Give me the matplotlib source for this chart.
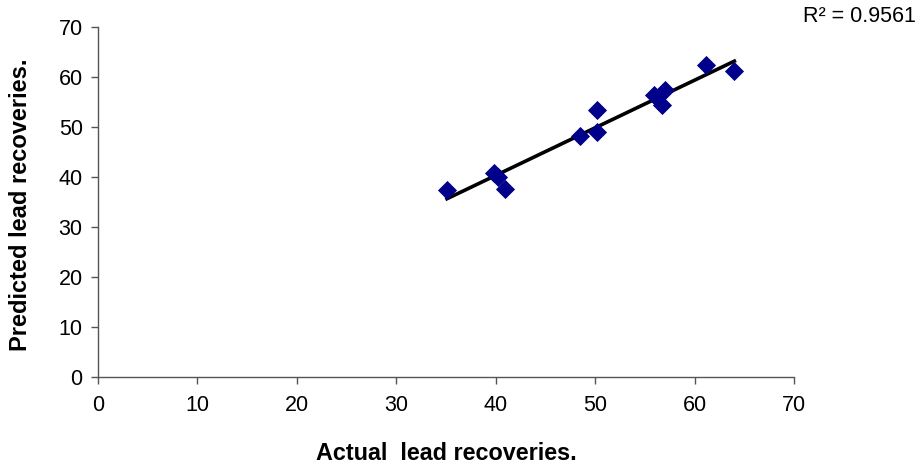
import matplotlib
matplotlib.use("Agg")
import matplotlib.pyplot as plt
import numpy as np

plt.rcParams['font.family'] = ['Liberation Sans', 'DejaVu Sans']

actual = [35.1, 39.8, 40.2, 40.9, 48.5, 50.2, 50.2, 55.9, 56.7, 57.0, 61.1, 64.0]
predicted = [37.4, 40.8, 40.0, 37.5, 48.1, 53.3, 48.9, 56.4, 54.3, 57.4, 62.4, 61.2]
xticks = [0, 10, 20, 30, 40, 50, 60, 70]
yticks = [0, 10, 20, 30, 40, 50, 60, 70]

fig = plt.figure(figsize=(9.18, 4.65), dpi=100)
ax = fig.add_axes([98/918, 88/465, (794-98)/918, (377-27)/465])

x = np.array(actual)
y = np.array(predicted)
m, b = np.polyfit(x, y, 1)
xl = np.array([x.min(), x.max()])
ax.plot(xl, m*xl + b, color='black', lw=2.6, zorder=2)
ax.scatter(x, y, marker='D', s=95, color='#00008B', zorder=3, linewidths=0)

ax.set_xlim(0, 70)
ax.set_ylim(0, 70)
ax.set_xticks(xticks)
ax.set_yticks(yticks)
for s in ['top', 'right']:
    ax.spines[s].set_visible(False)
for s in ['left', 'bottom']:
    ax.spines[s].set_color('#555555')
    ax.spines[s].set_linewidth(1.0)
ax.tick_params(direction='out', length=5, width=1, color='#555555', labelsize=15.5)
ax.tick_params(axis='x', pad=8)
ax.tick_params(axis='y', pad=6)

fig.text(0.5 * (98 + 794) / 918, 1 - 453/465, 'Actual  lead recoveries.', ha='center', va='center',
         fontsize=16.8, fontweight='bold')
fig.text(21/918, 1 - 205/465, 'Predicted lead recoveries.', ha='center', va='center',
         rotation=90, fontsize=17, fontweight='bold')
fig.text(859/918, 1 - 17/465, 'R² = 0.9561', ha='center', va='center', fontsize=15.5)

fig.savefig('out.png', dpi=100)
